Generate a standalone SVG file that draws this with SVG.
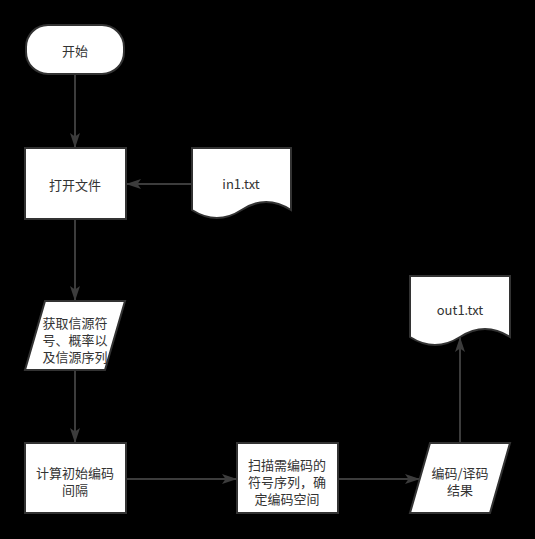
<svg xmlns="http://www.w3.org/2000/svg" width="535" height="539" viewBox="0 0 535 539">
<style>
.node{fill:#ffffff;stroke:#333333;stroke-width:2}
.edge{fill:none;stroke:#3c3c3c;stroke-width:2}
text{font-family:"Noto Sans CJK SC","Liberation Sans",sans-serif;font-size:13px;fill:#333333;text-anchor:middle;dominant-baseline:central}
</style>
<defs>
<marker id="arr" viewBox="0 0 15 10" refX="15" refY="5" markerWidth="15" markerHeight="10" markerUnits="userSpaceOnUse" orient="auto">
<path d="M0,0 L15,5 L0,10 L3.5,5 Z" fill="#3c3c3c"/>
</marker>
</defs>
<rect width="535" height="539" fill="#000000"/>
<g id="connectors">
<path class="edge" d="M75,74 V148" marker-end="url(#arr)"/>
<path class="edge" d="M192,184 H126" marker-end="url(#arr)"/>
<path class="edge" d="M75,219 V301" marker-end="url(#arr)"/>
<path class="edge" d="M75,370 V443" marker-end="url(#arr)"/>
<path class="edge" d="M126,479 H237" marker-end="url(#arr)"/>
<path class="edge" d="M338,479 H420" marker-end="url(#arr)"/>
<path class="edge" d="M460,443 V337" marker-end="url(#arr)"/>
</g>
<g id="start">
<rect class="node" x="26" y="25" width="98" height="49" rx="22" ry="22"/>
<text x="75" y="50">开始</text>
</g>
<g id="open-file">
<rect class="node" x="25" y="148" width="101" height="71"/>
<text x="75" y="184">打开文件</text>
</g>
<g id="in1">
<path class="node" d="M192,148 H291 V210 Q266,194 241.5,210 Q217,226 192,210 Z"/>
<text x="241" y="183">in1.txt</text>
</g>
<g id="get-source">
<path class="node" d="M45,301 H125 L105,370 H25 Z"/>
<text x="75" y="322">获取信源符</text>
<text x="75" y="339">号、概率以</text>
<text x="75" y="356">及信源序列</text>
</g>
<g id="calc-interval">
<rect class="node" x="25" y="443" width="101" height="70"/>
<text x="75" y="472">计算初始编码</text>
<text x="75" y="489">间隔</text>
</g>
<g id="scan">
<rect class="node" x="237" y="443" width="101" height="70"/>
<text x="287" y="464">扫描需编码的</text>
<text x="287" y="481">符号序列，确</text>
<text x="287" y="498">定编码空间</text>
</g>
<g id="result">
<path class="node" d="M430,443 H510 L490,513 H410 Z"/>
<text x="460" y="472">编码/译码</text>
<text x="460" y="489">结果</text>
</g>
<g id="out1">
<path class="node" d="M410,276 H510 V337 Q485,321 460,337 Q435,353 410,337 Z"/>
<text x="460" y="309">out1.txt</text>
</g>
</svg>
